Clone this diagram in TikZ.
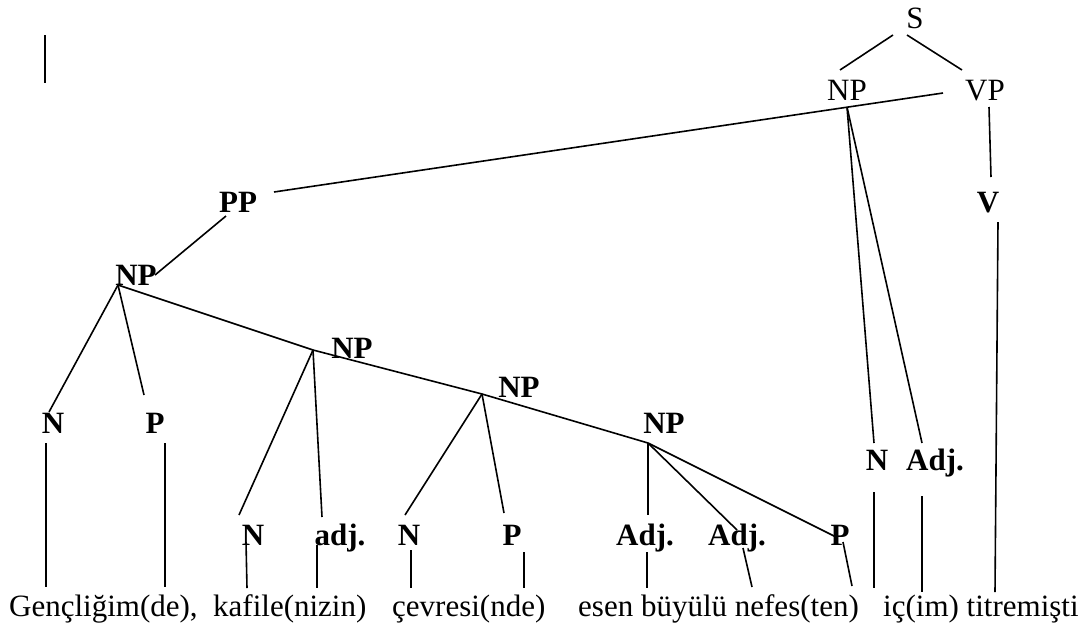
\documentclass[tikz,border=0pt]{standalone}
\usepackage{fontspec}
\setmainfont{Liberation Serif}
\usetikzlibrary{calc}

\begin{document}
\begin{tikzpicture}[
    x=1pt, y=-1pt,
    link/.style={line width=1.6pt},
    cat/.style={inner sep=0pt, anchor=base, font=\fontsize{31}{37}\selectfont},
    bcat/.style={cat, font=\fontsize{31}{37}\selectfont\bfseries},
    word/.style={inner sep=0pt, anchor=base west, font=\fontsize{31}{37}\selectfont}
]
\useasboundingbox (0,0) rectangle (1087,630);

% stray mark, top left
\draw[link] (45,35) -- (45,83);

% categories
\node[cat] (s) at (915,28) {S};
\node[cat] (np0) at (847,100) {NP};
\node[cat] (vp) at (985,100) {VP};
\node[bcat] (v) at (988,212) {V};
\node[bcat] (pp) at (238,212) {PP};
\node[bcat] (np1) at (136,285) {NP};
\node[bcat] (n1) at (53,433) {N};
\node[bcat] (p1) at (155,433) {P};
\node[bcat] (np2) at (352,358) {NP};
\node[bcat] (n2) at (253,545) {N};
\node[bcat] (adj2) at (340,545) {adj.};
\node[bcat] (np3) at (519,397) {NP};
\node[bcat] (n3) at (409,545) {N};
\node[bcat] (p3) at (512,545) {P};
\node[bcat] (np4) at (664,433) {NP};
\node[bcat] (adj4a) at (645,545) {Adj.};
\node[bcat] (adj4b) at (737,545) {Adj.};
\node[bcat] (p4) at (840,545) {P};
\node[bcat] (n5) at (877,470) {N};
\node[bcat] (adj5) at (935,470) {Adj.};

% the sentence
\node[word] (w1) at (9,616) {Gençliğim(de),};
\node[word] (w2) at (213,616) {kafile(nizin)};
\node[word] (w3) at (392,616) {çevresi(nde)};
\node[word] (w4) at (578,616) {esen büyülü nefes(ten)};
\node[word] (w5) at (883,616) {iç(im) titremişti};

% junctions
\coordinate (np0j) at ($(np0.base)+(0,7)$);
\coordinate (np1j) at ($(np1.base)+(-18,0)$);
\coordinate (np2j) at ($(np2.base)+(-39,-8)$);
\coordinate (np3j) at ($(np3.base)+(-37,-3)$);
\coordinate (np4j) at ($(np4.base)+(-16,10)$);

% S, VP
\draw[link] ($(s.base)+(-22,7)$) -- ($(np0.base)+(-7,-30)$);
\draw[link] ($(s.base)+(-8,7)$) -- ($(vp.base)+(-23,-30)$);
\draw[link] ($(vp.base)+(4,7)$) -- ($(v.base)+(3,-35)$);
\draw[link] ($(v.base)+(10,10)$) -- ($(w5.base west)+(112,-24)$);

% upper NP
\draw[link] ($(np0.base)+(96,-7)$) -- ($(pp.base)+(36,-20)$);
\draw[link] (np0j) -- ($(n5.base)+(-3,-27)$);
\draw[link] (np0j) -- ($(adj5.base)+(-13,-27)$);
\draw[link] ($(pp.base)+(-12,4)$) -- ($(np1.base)+(19,-10)$);

% NP chain
\draw[link] (np1j) -- (np2j) -- (np3j) -- (np4j);
\draw[link] (np1j) -- ($(n1.base)+(-4,-21)$);
\draw[link] (np1j) -- ($(p1.base)+(-11,-38)$);
\draw[link] (np2j) -- ($(n2.base)+(-14,-30)$);
\draw[link] (np2j) -- ($(adj2.base)+(-18,-28)$);
\draw[link] (np3j) -- ($(n3.base)+(-4,-30)$);
\draw[link] (np3j) -- ($(p3.base)+(-8,-32)$);
\draw[link] (np4j) -- ($(adj4a.base)+(3,-30)$);
\draw[link] (np4j) -- ($(adj4b.base)+(0,-15)$);
\draw[link] (np4j) -- ($(p4.base)+(-4,-8)$);

% down to the words
\draw[link] ($(n1.base)+(-7,10)$) -- ($(w1.base west)+(37,-29)$);
\draw[link] ($(p1.base)+(10,10)$) -- ($(w1.base west)+(156,-29)$);
\draw[link] ($(n2.base)+(-7,-3)$) -- ($(w2.base west)+(34,-28)$);
\draw[link] ($(adj2.base)+(-23,0)$) -- ($(w2.base west)+(104,-28)$);
\draw[link] ($(n3.base)+(2,5)$) -- ($(w3.base west)+(19,-28)$);
\draw[link] ($(p3.base)+(12,7)$) -- ($(w3.base west)+(132,-28)$);
\draw[link] ($(adj4a.base)+(2,7)$) -- ($(w4.base west)+(69,-28)$);
\draw[link] ($(adj4b.base)+(6,3)$) -- ($(w4.base west)+(174,-29)$);
\draw[link] ($(p4.base)+(3,-3)$) -- ($(w4.base west)+(274,-30)$);
\draw[link] ($(n5.base)+(-3,22)$) -- ($(w5.base west)+(-9,-28)$);
\draw[link] ($(adj5.base)+(-13,26)$) -- ($(w5.base west)+(39,-24)$);

\end{tikzpicture}
\end{document}
